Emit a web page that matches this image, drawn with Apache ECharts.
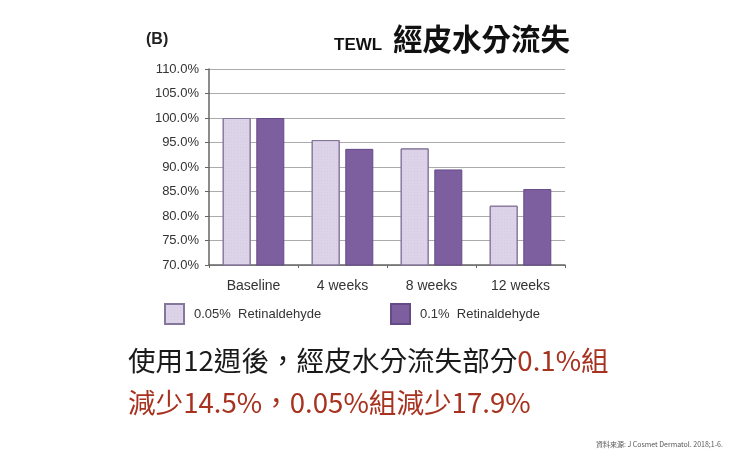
<!DOCTYPE html>
<html>
<head>
<meta charset="utf-8">
<script src="https://cdn.jsdelivr.net/npm/echarts@6/dist/echarts.min.js"></script>
<style>
  html, body { margin: 0; padding: 0; background: #fff; }
  #chart { width: 740px; height: 463px; }
</style>
</head>
<body>
<div id="chart"></div>
<script>
// categories and TEWL values (% of baseline)
const categories = ['Baseline', '4 weeks', '8 weeks', '12 weeks']
const lowDose = [100, 95.5, 93.8, 82.1]   // 0.05% Retinaldehyde
const highDose = [100, 93.7, 89.5, 85.5]  // 0.1% Retinaldehyde
const seriesNames = ['0.05%  Retinaldehyde', '0.1%  Retinaldehyde']
const yTicks = [70, 75, 80, 85, 90, 95, 100, 105, 110]

const cjk = '"Noto Sans CJK TC", "Noto Sans CJK SC", sans-serif'
const latin = 'Arial, "Liberation Sans", sans-serif'

const chart = echarts.init(document.getElementById('chart'))

const legendText = { color: '#333', fontSize: 13, fontFamily: latin, padding: [0, 0, 0, 5] }

chart.setOption({
  animation: false,
  backgroundColor: '#fff',
  grid: { left: 209, right: 175, top: 69, bottom: 198 },
  xAxis: {
    type: 'category',
    data: categories,
    axisLine: { lineStyle: { color: '#666', width: 1.5 } },
    axisTick: { show: true, length: 3, lineStyle: { color: '#666' } },
    axisLabel: { color: '#333', fontSize: 14, fontFamily: latin, margin: 14 }
  },
  yAxis: {
    type: 'value',
    min: yTicks[0],
    max: yTicks[yTicks.length - 1],
    interval: 5,
    axisLine: { show: true, lineStyle: { color: '#666', width: 1.5 } },
    axisTick: { show: true, length: 4, lineStyle: { color: '#666' } },
    splitLine: { lineStyle: { color: '#ababab', width: 1 } },
    axisLabel: {
      color: '#333', fontSize: 13, fontFamily: latin, margin: 10,
      formatter: v => v.toFixed(1) + '%'
    }
  },
  legend: [
    {
      data: [seriesNames[0]], left: 164, top: 303, padding: 0, icon: 'rect',
      itemWidth: 19, itemHeight: 20, textStyle: legendText
    },
    {
      data: [seriesNames[1]], left: 390, top: 303, padding: 0, icon: 'rect',
      itemWidth: 19, itemHeight: 20, textStyle: legendText
    }
  ],
  series: [
    {
      name: seriesNames[0], type: 'bar', data: lowDose, barWidth: 28, barGap: '20%',
      itemStyle: {
        color: '#dcd3e8', borderColor: '#85769c', borderWidth: 1,
        decal: { symbol: 'rect', symbolSize: 0.6, dashArrayX: [1, 2], dashArrayY: [1, 2], color: 'rgba(150,130,175,0.35)' }
      }
    },
    {
      name: seriesNames[1], type: 'bar', data: highDose, barWidth: 28,
      itemStyle: { color: '#7d5fa0', borderColor: '#654a88', borderWidth: 1 }
    }
  ],
  graphic: [
    { type: 'text', left: 146, top: 32, style: { text: '(B)', font: 'bold 16px ' + latin, fill: '#222' } },
    { type: 'text', left: 334, top: 37, style: { text: 'TEWL', font: 'bold 17px ' + latin, fill: '#111' } },
    { type: 'text', left: 393, top: 24, style: { text: '經皮水分流失', font: 'bold 29.5px ' + cjk, fill: '#111' } },
    {
      type: 'text', left: 128, top: 347,
      style: {
        text: '{b|使用12週後，經皮水分流失部分}{r|0.1%組}\n{r|減少14.5%，0.05%組減少17.9%}',
        rich: {
          b: { font: '27.6px ' + cjk, fill: '#1a1a1a', lineHeight: 42 },
          r: { font: '27.6px ' + cjk, fill: '#a83220', lineHeight: 42 }
        }
      }
    },
    { type: 'text', left: 596, top: 441, style: { text: '資料來源: J Cosmet Dermatol. 2018;1-6.', font: '7px ' + cjk, fill: '#555' } }
  ]
})
</script>
</body>
</html>
